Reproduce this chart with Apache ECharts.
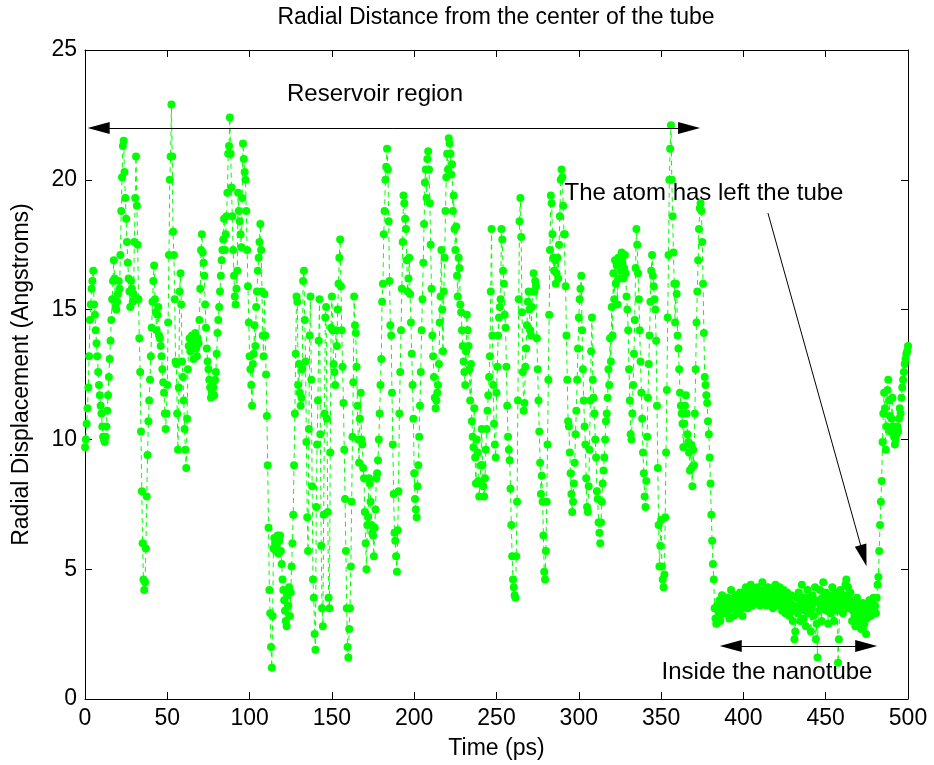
<!DOCTYPE html>
<html>
<head>
<meta charset="utf-8">
<title>Radial Distance from the center of the tube</title>
<script src="https://cdn.jsdelivr.net/npm/echarts@6/dist/echarts.min.js"></script>
<style>
  html, body { margin: 0; padding: 0; background: #ffffff; }
  #chart { width: 934px; height: 765px; }
</style>
</head>
<body>
<div id="chart"></div>
<script>
// Sampling of the trajectory (ps between stored frames) and axis ranges
const timeStep = 0.5;
const timeRange = [0, 500];
const radialRange = [0, 25];

// Radial displacement of the atom (Angstroms), one value per stored frame
const displacement = [
  // 0 - 10 ps
  9.7, 10.0, 10.6, 11.2, 12.0, 13.2, 14.6, 15.2, 15.8, 16.1, 16.5, 15.2, 14.8, 14.2, 13.7, 13.2, 12.6, 12.1, 11.7, 11.3,
  11.0, 10.5, 10.1, 10.0, 9.9, 10.1, 10.5, 11.1, 11.7, 12.4, 13.1, 13.8, 14.6, 15.4, 16.1, 16.9, 16.2, 15.1, 15.0, 15.3,
  15.6, 16.1, 15.8, 17.1, 18.8, 20.1, 21.3, 21.5, 20.3, 19.3, 18.5, 17.6, 16.8, 16.2, 15.7, 15.1, 16.1, 15.8, 15.3, 15.6,
  17.6, 19.3, 20.9, 19.0, 17.5, 15.4, 13.9, 12.6, 10.3, 8.0, 6.0, 4.6, 4.2, 4.5, 5.8, 7.8, 9.4, 10.7, 11.5, 12.3,
  13.2, 14.3, 15.3, 16.1, 16.7, 15.4, 14.9, 14.2, 14.8, 15.1, 14.0, 13.9, 13.6, 13.2, 12.7, 12.2, 11.8, 11.0, 10.4, 11.0,
  // 50 - 100 ps
  12.1, 14.5, 17.1, 20.0, 20.9, 22.9, 20.9, 18.0, 17.1, 15.4, 13.0, 12.9, 11.0, 9.6, 12.0, 15.7, 16.4, 15.2, 13.0, 12.4,
  11.5, 10.4, 9.6, 8.9, 10.8, 12.7, 13.6, 13.9, 13.4, 13.9, 14.0, 13.6, 13.1, 13.8, 14.1, 13.5, 13.2, 13.9, 13.7, 14.6,
  15.8, 17.3, 17.9, 17.2, 16.8, 16.3, 15.2, 14.3, 13.5, 13.0, 12.7, 12.3, 12.0, 11.6, 11.8, 12.2, 12.0, 11.7, 12.3, 12.6,
  13.3, 14.1, 14.6, 15.1, 15.7, 16.3, 16.9, 17.3, 17.7, 18.5, 17.3, 17.9, 18.6, 19.5, 21.0, 21.3, 22.4, 21.0, 19.7, 18.6,
  17.3, 16.3, 15.5, 15.2, 15.8, 16.5, 19.5, 18.8, 18.4, 17.9, 17.4, 19.3, 21.4, 20.8, 20.3, 20.0, 18.8, 17.3, 15.9, 14.5,
  // 100 - 150 ps
  13.2, 12.7, 12.1, 11.3, 12.9, 13.3, 14.4, 13.6, 15.1, 15.7, 16.5, 17.0, 17.6, 18.3, 17.3, 15.7, 14.0, 13.2, 15.6, 14.0,
  12.5, 10.9, 9.0, 6.6, 4.2, 3.3, 2.0, 1.2, 3.2, 5.8, 6.2, 6.0, 5.7, 5.9, 6.3, 5.6, 6.1, 6.3, 5.7, 5.2,
  4.6, 4.2, 3.8, 3.4, 3.0, 2.8, 4.0, 3.6, 4.3, 3.2, 4.1, 5.1, 6.0, 7.1, 9.0, 11.0, 13.3, 15.5, 15.3, 12.1,
  12.9, 11.8, 11.3, 11.6, 12.7, 16.1, 16.5, 14.6, 13.0, 9.9, 7.0, 5.7, 10.4, 14.0, 15.5, 12.3, 8.2, 4.6, 3.9, 2.5,
  1.9, 7.4, 9.8, 11.5, 13.8, 15.4, 10.2, 5.9, 3.5, 2.8, 7.1, 11.0, 14.7, 15.1, 10.8, 7.2, 3.9, 3.5, 9.5, 14.3,
  // 150 - 200 ps
  15.5, 14.2, 12.9, 12.6, 12.1, 14.2, 13.6, 15.0, 16.0, 17.0, 17.7, 15.9, 14.2, 12.8, 11.4, 9.6, 7.7, 5.7, 3.5, 2.0,
  1.6, 2.7, 3.5, 5.1, 7.6, 10.1, 12.2, 15.5, 14.4, 14.1, 12.8, 11.3, 10.0, 9.1, 10.8, 11.8, 10.0, 9.8, 8.9, 8.5,
  7.2, 6.0, 5.0, 6.7, 7.0, 8.5, 8.3, 7.6, 6.7, 6.4, 6.3, 5.5, 6.6, 7.3, 8.5, 8.7, 9.2, 10.0, 11.0, 12.1,
  13.1, 15.3, 16.0, 17.9, 18.8, 20.0, 20.5, 21.2, 20.4, 18.4, 16.1, 14.4, 14.0, 11.8, 9.8, 7.9, 6.4, 6.1, 5.5, 4.9,
  6.5, 8.0, 11.0, 12.6, 14.2, 15.8, 17.6, 19.4, 19.1, 18.5, 18.1, 16.9, 15.7, 16.2, 17.0, 15.6, 14.5, 13.3, 12.1, 10.8,
  // 200 - 250 ps
  8.7, 7.7, 7.3, 7.0, 8.2, 9.0, 10.1, 11.3, 12.6, 14.2, 15.4, 16.8, 18.3, 19.9, 20.4, 19.3, 20.8, 21.1, 20.4, 19.1,
  17.5, 15.8, 14.0, 13.2, 12.4, 11.6, 11.2, 11.5, 11.8, 12.1, 12.9, 14.5, 15.5, 17.3, 15.0, 13.4, 15.7, 17.0, 18.8, 20.1,
  21.0, 20.4, 21.6, 21.4, 21.0, 20.2, 20.6, 18.8, 19.4, 18.1, 17.3, 18.2, 16.3, 15.5, 17.0, 16.6, 15.2, 14.9, 14.2, 13.6,
  13.0, 12.6, 12.1, 13.4, 14.8, 14.2, 13.6, 12.7, 11.5, 12.9, 10.7, 10.1, 9.7, 11.2, 9.3, 8.3, 10.0, 9.5, 8.4, 7.8,
  8.3, 9.0, 10.4, 9.0, 8.2, 7.8, 8.5, 9.6, 10.4, 11.1, 11.7, 12.4, 13.2, 15.7, 18.1, 14.0, 12.1, 10.6, 9.8, 9.3,
  // 250 - 300 ps
  11.8, 12.8, 14.0, 14.7, 15.1, 15.4, 18.1, 17.7, 16.5, 16.0, 14.8, 14.3, 12.8, 11.3, 10.1, 9.6, 9.2, 8.1, 6.7, 5.5,
  4.6, 4.3, 4.0, 3.9, 5.5, 7.6, 11.5, 15.4, 18.4, 19.3, 17.8, 14.9, 12.6, 11.1, 11.4, 12.8, 13.5, 14.4, 15.3, 15.7,
  15.0, 14.2, 14.0, 15.1, 15.7, 16.4, 15.7, 16.1, 15.9, 13.9, 12.7, 11.5, 10.3, 9.1, 7.9, 8.6, 7.6, 6.3, 4.9, 4.6,
  5.7, 7.6, 9.8, 12.3, 14.8, 17.3, 19.4, 19.1, 17.9, 17.0, 16.5, 16.9, 16.0, 16.4, 17.0, 16.2, 17.5, 18.6, 20.0, 20.4,
  20.1, 19.0, 17.9, 17.9, 15.9, 14.0, 12.3, 10.7, 10.5, 9.5, 8.7, 7.9, 7.2, 7.6, 8.3, 9.1, 10.2, 11.1, 12.3, 13.5,
  // 300 - 350 ps
  14.7, 15.4, 15.8, 16.3, 14.2, 12.7, 11.5, 10.5, 9.8, 8.5, 7.4, 7.2, 8.2, 9.6, 11.5, 13.4, 14.7, 12.3, 11.6, 11.0,
  10.0, 9.3, 8.0, 7.7, 6.8, 6.4, 6.0, 6.8, 7.6, 8.3, 8.8, 9.3, 10.0, 10.7, 11.0, 11.6, 12.7, 12.1, 13.9, 13.0,
  15.1, 14.0, 16.4, 15.4, 16.9, 16.0, 16.7, 15.2, 17.0, 16.2, 16.9, 16.5, 17.2, 16.8, 16.2, 16.6, 17.1, 16.4, 15.5, 15.0,
  14.2, 12.7, 11.5, 10.2, 10.0, 11.0, 12.1, 13.3, 14.6, 16.6, 18.1, 17.5, 16.4, 15.4, 14.2, 13.0, 11.8, 10.8, 9.5, 8.7,
  7.8, 7.4, 8.4, 10.1, 11.6, 12.9, 14.0, 15.3, 16.5, 17.1, 16.3, 15.9, 15.4, 15.0, 13.8, 11.3, 8.9, 6.7, 5.1, 5.9,
  // 350 - 400 ps
  6.9, 5.1, 4.6, 4.3, 4.8, 7.0, 9.5, 11.9, 14.7, 17.1, 20.0, 21.2, 22.1, 20.0, 18.6, 17.2, 16.0, 14.5, 16.0, 15.6,
  14.0, 13.5, 12.7, 11.8, 11.3, 11.0, 10.6, 9.7, 10.6, 11.3, 11.7, 11.0, 10.2, 9.9, 9.5, 8.8, 9.8, 8.9, 8.2, 9.6,
  9.0, 11.0, 12.7, 14.5, 15.7, 16.9, 18.1, 18.9, 19.1, 18.8, 17.6, 16.0, 14.1, 12.4, 12.1, 11.7, 11.4, 10.7, 10.2, 9.3,
  8.3, 7.1, 6.1, 5.2, 4.6, 3.5, 3.1, 2.9, 3.6, 3.4, 3.2, 3.8, 3.0, 3.5, 4.0, 3.6, 3.3, 3.9, 3.4, 3.7,
  3.3, 3.9, 3.6, 3.1, 3.7, 4.2, 3.5, 3.8, 3.2, 3.6, 4.0, 3.4, 3.7, 3.9, 3.3, 3.6, 4.1, 3.5, 3.8, 3.2,
  // 400 - 450 ps
  3.7, 4.0, 3.6, 4.3, 3.8, 3.5, 3.9, 4.1, 3.7, 4.4, 3.9, 3.6, 4.0, 3.8, 4.2, 3.7, 3.9, 4.3, 3.8, 4.0,
  3.6, 4.1, 3.9, 4.5, 4.0, 3.7, 4.2, 3.9, 3.6, 4.0, 4.3, 3.8, 4.1, 3.7, 3.9, 4.2, 3.5, 4.0, 3.8, 4.4,
  3.9, 3.6, 4.1, 3.8, 4.3, 3.7, 4.0, 3.4, 3.9, 4.2, 3.6, 3.3, 3.8, 4.1, 3.5, 3.9, 3.2, 3.7, 4.0, 3.4,
  3.0, 3.6, 2.3, 2.6, 3.5, 3.9, 3.3, 4.1, 3.6, 3.0, 3.8, 4.4, 3.5, 3.1, 3.9, 3.4, 2.8, 3.7, 4.2, 3.6,
  3.3, 3.9, 2.6, 3.5, 4.0, 3.2, 3.7, 4.3, 2.3, 2.9, 1.6, 3.8, 3.4, 4.2, 3.6, 3.0, 3.9, 4.5, 3.5, 3.8,
  // 450 - 500 ps
  4.1, 3.4, 3.7, 2.9, 3.6, 4.0, 3.3, 3.8, 4.3, 3.5, 3.0, 3.7, 4.1, 3.4, 3.9, 1.4, 2.3, 3.8, 4.2, 3.6,
  3.6, 3.3, 4.0, 3.7, 4.4, 4.6, 3.9, 4.3, 3.5, 3.8, 4.1, 3.6, 3.0, 3.4, 3.8, 3.2, 2.8, 3.5, 3.9, 3.3,
  3.6, 3.0, 3.4, 2.7, 3.2, 3.7, 3.5, 2.9, 3.3, 2.5, 3.1, 3.6, 3.4, 3.8, 3.5, 3.2, 3.7, 3.6, 3.9, 3.5,
  3.6, 3.3, 3.9, 4.4, 4.7, 5.7, 6.7, 7.6, 8.4, 9.9, 11.0, 11.8, 11.2, 9.6, 10.5, 11.9, 12.3, 11.5, 10.9, 10.3,
  10.8, 11.6, 10.5, 10.1, 9.8, 10.0, 10.2, 10.5, 10.3, 10.8, 11.2, 11.0, 11.6, 12.0, 12.3, 12.6, 12.9, 13.1, 13.3, 13.4, 13.6
];

// Text drawn on the figure
const titleText = 'Radial Distance from the center of the tube';
const xAxisName = 'Time (ps)';
const yAxisName = 'Radial Displacement (Angstroms)';
const reservoirLabel = 'Reservoir region';
const leftTubeLabel = 'The atom has left the tube';
const insideLabel = 'Inside the nanotube';

// (time, displacement) pairs for the line series
const points = displacement.map((v, i) => [i * timeStep, v]);

const FONT = '"Liberation Sans", Arial, Helvetica, sans-serif';
const FS = 23;
const NOTE_FS = 24;
const ARROW = 'path://M0,0L10,22L-10,22Z';

const chart = echarts.init(document.getElementById('chart'), null, { renderer: 'canvas' });

const boxAxis = {
  axisLine: { show: true, onZero: false, lineStyle: { color: '#000', width: 1 } },
  axisTick: { show: true, inside: true, length: 7, lineStyle: { color: '#000', width: 1 } },
  splitLine: { show: false }
};

function centredText(x, y, text, size) {
  return {
    type: 'text', x: x, y: y, silent: true,
    style: {
      text: text, font: `${size}px ${FONT}`, fill: '#000',
      align: 'center', verticalAlign: 'middle',
      textAlign: 'center', textVerticalAlign: 'middle'
    }
  };
}

chart.setOption({
  animation: false,
  backgroundColor: '#ffffff',
  textStyle: { fontFamily: FONT },
  grid: { left: 85, right: 26, top: 50, bottom: 66, containLabel: false },
  xAxis: [
    Object.assign({}, boxAxis, {
      type: 'value', position: 'bottom',
      min: timeRange[0], max: timeRange[1], interval: 50,
      axisLabel: { color: '#000', fontSize: FS, fontFamily: FONT, margin: 8 },
      name: xAxisName, nameLocation: 'middle', nameGap: 38,
      nameTextStyle: { color: '#000', fontSize: FS, fontFamily: FONT }
    }),
    Object.assign({}, boxAxis, {
      type: 'value', position: 'top',
      min: timeRange[0], max: timeRange[1], interval: 50,
      axisLabel: { show: false }
    })
  ],
  yAxis: [
    Object.assign({}, boxAxis, {
      type: 'value', position: 'left',
      min: radialRange[0], max: radialRange[1], interval: 5,
      axisLabel: { color: '#000', fontSize: FS, fontFamily: FONT, margin: 8 },
      name: yAxisName, nameLocation: 'middle', nameGap: 52, nameRotate: 90,
      nameTextStyle: { color: '#000', fontSize: FS, fontFamily: FONT }
    }),
    Object.assign({}, boxAxis, {
      type: 'value', position: 'right',
      min: radialRange[0], max: radialRange[1], interval: 5,
      axisLabel: { show: false }
    })
  ],
  series: [
    {
      type: 'line',
      xAxisIndex: 0,
      yAxisIndex: 0,
      data: points,
      showSymbol: true,
      showAllSymbol: true,
      symbol: 'circle',
      symbolSize: 8,
      itemStyle: { color: '#00ff00', borderWidth: 0 },
      lineStyle: { color: '#00ff00', width: 1, type: [5, 4] },
      emphasis: { disabled: true },
      silent: true,
      z: 2,
      markLine: {
        silent: true,
        animation: false,
        label: { show: false },
        symbolSize: [12, 22],
        lineStyle: { color: '#000', width: 1, type: 'solid' },
        emphasis: { disabled: true },
        data: [
          [
            { coord: [8.3, 22.0], symbol: ARROW },
            { coord: [367.0, 22.0], symbol: ARROW }
          ],
          [
            { coord: [392.3, 2.04], symbol: ARROW },
            { coord: [474.6, 2.04], symbol: ARROW }
          ],
          [
            { coord: [414.9, 18.72], symbol: 'none' },
            { coord: [473.0, 5.52], symbol: ARROW }
          ]
        ]
      }
    }
  ],
  graphic: [
    centredText(496, 18, titleText, FS),
    centredText(375, 94, reservoirLabel, NOTE_FS),
    centredText(704, 193, leftTubeLabel, NOTE_FS),
    centredText(767, 672, insideLabel, NOTE_FS)
  ]
});
</script>
</body>
</html>
